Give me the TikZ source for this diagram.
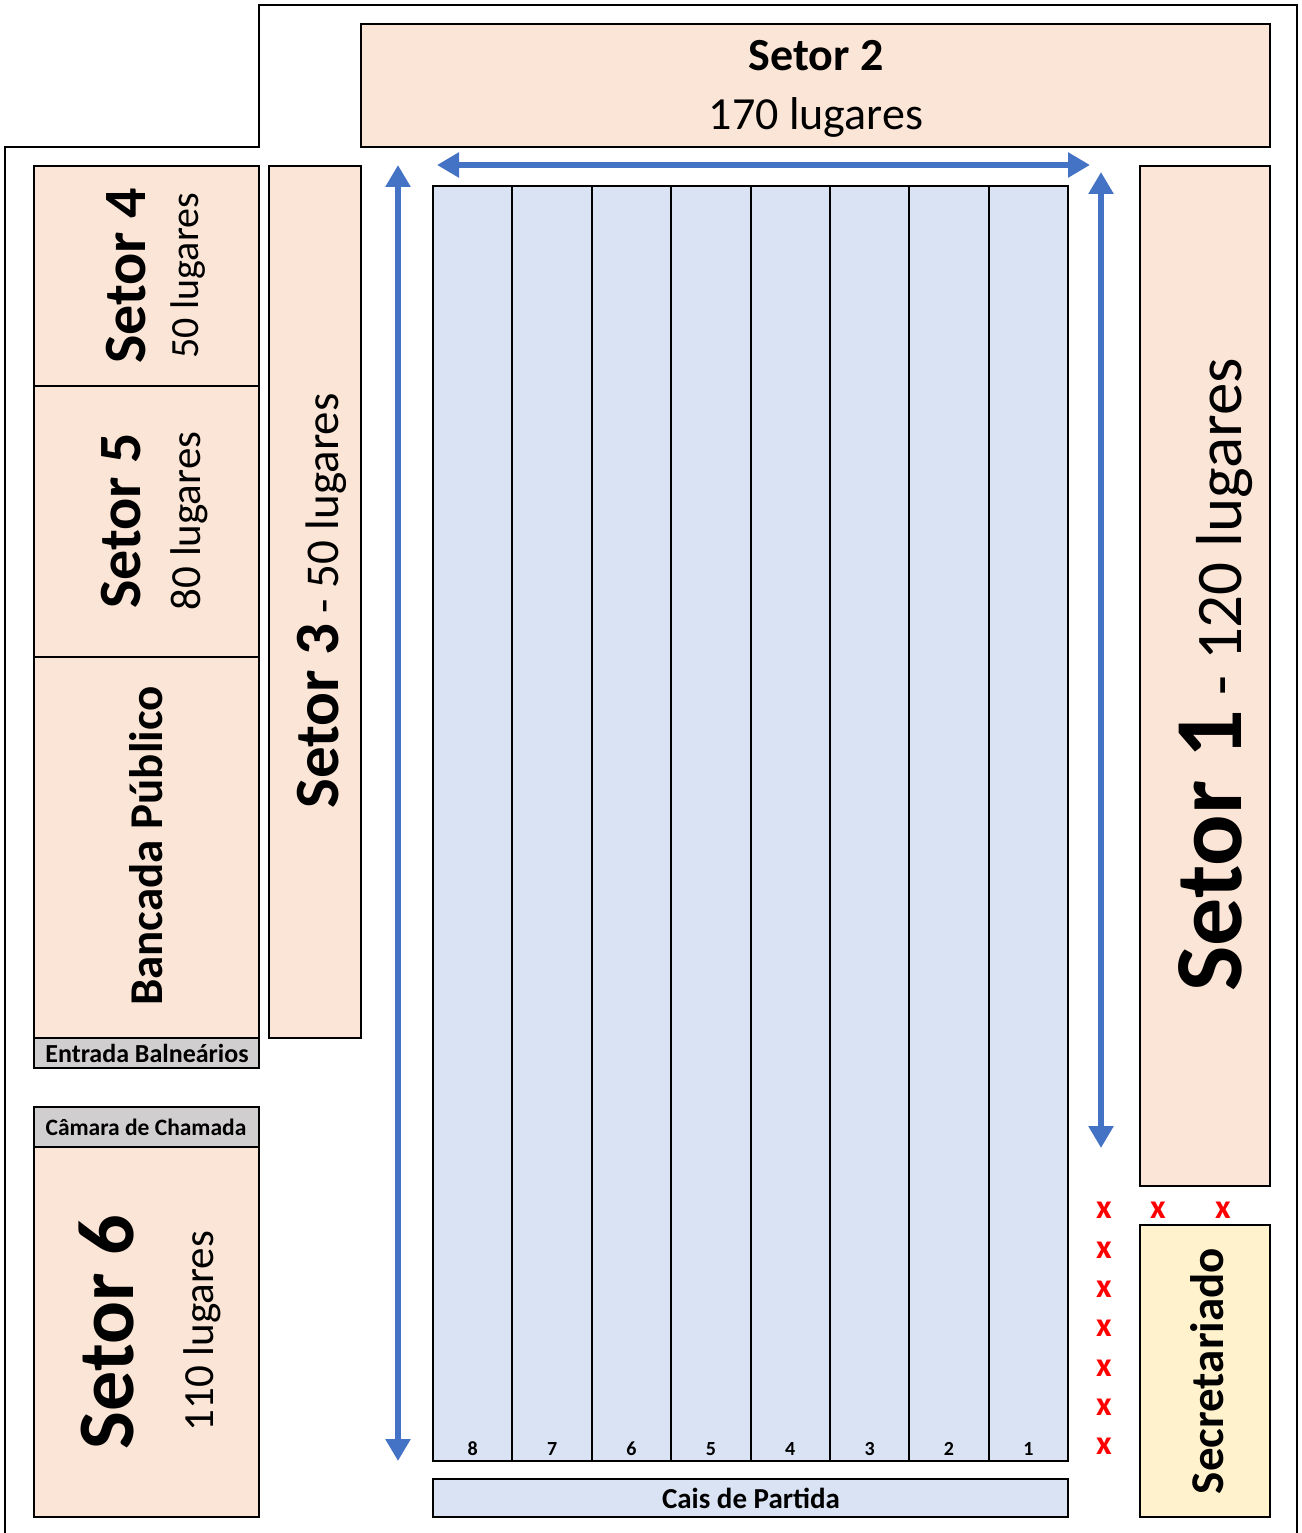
\documentclass[tikz,border=0pt]{standalone}
\usepackage{fontspec}
\setmainfont{Carlito}
\usetikzlibrary{arrows.meta}
\definecolor{seatfill}{HTML}{FBE5D6}
\definecolor{poolfill}{HTML}{DAE3F3}
\definecolor{grayfill}{HTML}{D0CECE}
\definecolor{secfill}{HTML}{FFF2CC}
\definecolor{arrowblue}{HTML}{4472C4}
\newcommand{\fs}[1]{\fontsize{#1}{#1}\selectfont}
\begin{document}
\begin{tikzpicture}[x=1pt,y=-1pt,
  box/.style={draw=black, line width=2.6pt, inner sep=0pt, outer sep=0pt, anchor=north west},
  seat/.style={box, fill=seatfill},
  graybox/.style={box, fill=grayfill},
  lanebox/.style={box, fill=poolfill, line width=2pt},
  wall/.style={draw=black, line width=2.6pt},
  flow/.style={draw=arrowblue, line width=6.5pt, {Triangle[width=24pt,length=22pt]}-{Triangle[width=24pt,length=22pt]}},
  vtext/.style={rotate=90, anchor=base, inner sep=0pt},
  htext/.style={anchor=base, inner sep=0pt},
  redmark/.style={text=red, font=\bfseries\fs{34}, inner sep=0pt}
]
\useasboundingbox (0,0) rectangle (1301,1533);

% outer wall
\draw[wall] (5,1533) -- (5,147) -- (259,147) -- (259,5) -- (1297,5) -- (1297,1533);

% Setor 2
\node[seat, minimum width=909pt, minimum height=123pt] (s2) at (361,24) {};
\node[htext, font=\bfseries\fs{46}] (s2a) at (816,71) {Setor 2};
\node[htext, font=\fs{46}] (s2b) at (816,130) {170 lugares};

% left column
\node[seat, minimum width=225pt, minimum height=220pt] (s4) at (34,166) {};
\node[vtext, font=\bfseries\fs{60}] (s4a) at (145,276) {Setor 4};
\node[vtext, font=\fs{40}] (s4b) at (198,276) {50 lugares};

\node[seat, minimum width=225pt, minimum height=271pt] (s5) at (34,386) {};
\node[vtext, font=\bfseries\fs{60}] (s5a) at (140,521) {Setor 5};
\node[vtext, font=\fs{43}] (s5b) at (200,521) {80 lugares};

\node[seat, minimum width=225pt, minimum height=381pt] (bp) at (34,657) {};
\node[vtext, font=\bfseries\fs{47}] (bpa) at (162,846) {Bancada Público};

\node[graybox, minimum width=225pt, minimum height=30pt] (eb) at (34,1038) {};
\node[font=\bfseries\fs{26}, inner sep=0pt] (eba) at (147,1053) {Entrada Balneários};

\node[graybox, minimum width=225pt, minimum height=40pt] (cc) at (34,1107) {};
\node[font=\bfseries\fs{23.5}, inner sep=0pt] (cca) at (146,1127) {Câmara de Chamada};

\node[seat, minimum width=225pt, minimum height=370pt] (s6) at (34,1147) {};
\node[vtext, font=\bfseries\fs{80}] (s6a) at (133,1332) {Setor 6};
\node[vtext, font=\fs{43}] (s6b) at (213,1331) {110 lugares};

% Setor 3
\node[seat, minimum width=92pt, minimum height=872pt] (s3) at (269,166) {};
\node[vtext] (s3a) at (338,601) {{\bfseries\fs{63}Setor 3}{\fs{47} - 50 lugares}};

% pool lanes
\foreach \i in {1,...,8} {
  \pgfmathtruncatemacro{\num}{9-\i}
  \node[lanebox, minimum width=79.375pt, minimum height=1275pt] (lane\i) at ({433+(\i-1)*79.375},186) {};
  \node[font=\bfseries\fs{20}, inner sep=0pt] (num\i) at ({433+(\i-0.5)*79.375},1449) {\num};
}
\draw[black, line width=2.6pt] (lane1.north west) rectangle (lane8.south east);

% Cais de Partida
\node[box, fill=poolfill, minimum width=635pt, minimum height=38pt] (cais) at (433,1479) {};
\node[font=\bfseries\fs{29}, inner sep=0pt] (caisa) at (751,1498) {Cais de Partida};

% Setor 1
\node[seat, minimum width=130pt, minimum height=1020pt] (s1) at (1140,166) {};
\node[vtext] (s1a) at (1241,675) {{\bfseries\fs{96}Setor 1}{\fs{65} - 120 lugares}};

% Secretariado
\node[box, fill=secfill, minimum width=130pt, minimum height=292pt] (sec) at (1140,1225) {};
\node[vtext, font=\bfseries\fs{47}] (seca) at (1223,1371) {Secretariado};

% arrows
\coordinate (aLt) at (398,165);
\coordinate (aLb) at (398,1461);
\coordinate (aTl) at (437,165);
\coordinate (aTr) at (1090,165);
\coordinate (aRt) at (1101,172);
\coordinate (aRb) at (1101,1148);
\draw[flow] (aLt) -- (aLb);
\draw[flow] (aTl) -- (aTr);
\draw[flow] (aRt) -- (aRb);

% red marks
\foreach \yy [count=\k] in {1210,1250,1289,1328,1368,1407,1446} {
  \node[redmark] (xc\k) at (1104,\yy) {x};
}
\node[redmark] (xr1) at (1158,1210) {x};
\node[redmark] (xr2) at (1223,1210) {x};
\end{tikzpicture}
\end{document}
